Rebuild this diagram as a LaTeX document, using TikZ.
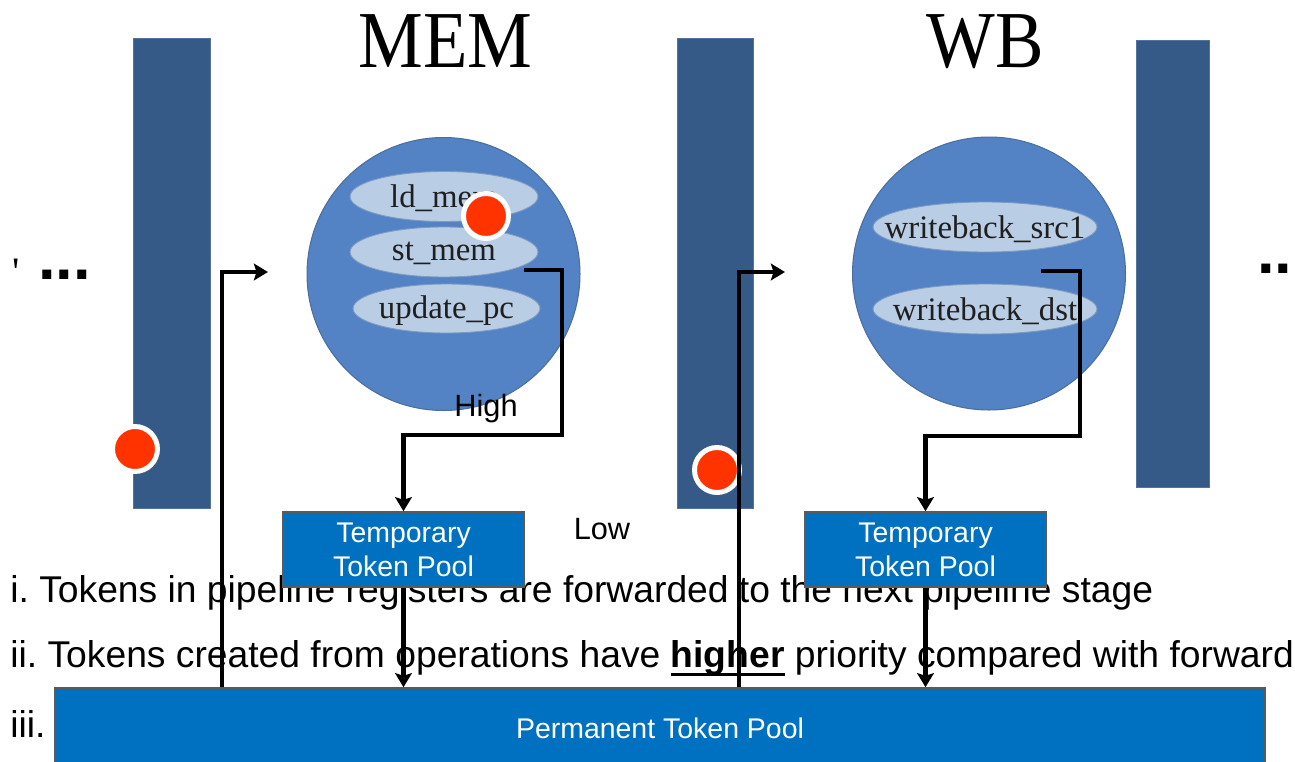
\documentclass[tikz,border=0pt]{standalone}
\usepackage{fontspec}
\setmainfont{Liberation Serif}
\setsansfont{Liberation Sans}
\newfontfamily\titlefont[FakeStretch=0.9]{Liberation Serif}
\usetikzlibrary{arrows.meta,shapes.geometric}

% thick underline for emphasised words
\newsavebox{\ulbox}
\newcommand{\thickul}[1]{\sbox{\ulbox}{#1}\rlap{\rule[-4.9pt]{\wd\ulbox}{1.7pt}}\usebox{\ulbox}}

\definecolor{regblue}{HTML}{355A88}
\definecolor{stageblue}{HTML}{5383C4}
\definecolor{stageedge}{HTML}{4A6E9E}
\definecolor{opfill}{HTML}{B9CDE5}
\definecolor{opedge}{HTML}{7E9BC2}
\definecolor{poolblue}{HTML}{0070C0}
\definecolor{pooledge}{HTML}{5A5A5A}
\definecolor{tokenred}{HTML}{FF3300}

\tikzset{
  reg/.style={rectangle, fill=regblue, draw=regblue!85!white, line width=0.4pt, inner sep=0},
  stage/.style={circle, fill=stageblue, draw=stageedge, line width=0.6pt, minimum size=5.46cm, inner sep=0},
  op/.style={ellipse, fill=opfill, draw=opedge, line width=0.5pt, minimum height=1.0cm, inner sep=0,
    label={[optext]center:#1}},
  optext/.style={font=\fontsize{18.7}{20}\selectfont, text=black!88, inner sep=0, yshift=-1pt},
  pool/.style={rectangle, fill=poolblue, draw=pooledge, line width=0.9pt, text=white,
    font=\sffamily\fontsize{16.2}{19.4}\selectfont, align=center, inner sep=0},
  token/.style={circle, fill=tokenred, draw=white, line width=2.83pt, minimum size=0.9cm, inner sep=0},
  flow/.style={line width=2.3pt, -{Stealth[length=8pt,width=9.5pt,inset=1.5pt]}},
  note/.style={font=\sffamily\fontsize{21.2}{25}\selectfont\frenchspacing, anchor=base west, inner sep=0},
  prio/.style={font=\sffamily\fontsize{17.5}{20}\selectfont, inner sep=0},
  title/.style={font=\titlefont\fontsize{46}{50}\selectfont, anchor=base, inner sep=0},
  more/.style={font=\sffamily\bfseries\fontsize{36}{40}\selectfont, inner sep=0, anchor=base west},
}

\begin{document}
\begin{tikzpicture}[x=0.02cm,y=-0.02cm]
\clip (0,0) rectangle (1295,761);
\fill[white] (0,0) rectangle (1295,761);

% pipeline registers
\node[reg, minimum width=1.54cm, minimum height=9.4cm] (reg1) at (171.5,273) {};
\node[reg, minimum width=1.52cm, minimum height=9.4cm] (reg2) at (715,273) {};
\node[reg, minimum width=1.46cm, minimum height=8.94cm] (reg3) at (1172.5,263.5) {};

% stage titles
\node[title] (memtitle) at (445.5,67) {MEM};
\node[title] (wbtitle) at (985,67) {WB};

% elided stages on both sides
\node[font=\fontsize{23}{25}\selectfont, anchor=base, inner sep=0] (tick) at (16,285) {\textquotesingle};
\node[more] (moreL) at (38,279) {...};
\node[more] (moreR) at (1257,273) {...};

% MEM stage and its operations
\node[stage] (mem) at (443.5,274) {};
\node[op=ld\_mem, minimum width=3.76cm] (ld) at (444,196.5) {};
\node[op=st\_mem, minimum width=3.76cm] (st) at (444,252) {};
\node[op=update\_pc, minimum width=3.74cm, minimum height=0.98cm] (upd) at (446.5,308.5) {};

% WB stage and its operations
\node[stage] (wb) at (989,273.5) {};
\node[op=writeback\_src1, minimum width=4.48cm] (wbs) at (985,227) {};
\node[op=writeback\_dst, minimum width=4.48cm] (wbd) at (985,309) {};

% rules listed under the pipeline
\node[note] (r1) at (10,602) {i. Tokens in pipeline registers are forwarded to the next pipeline stage};
\node[note] (r2) at (10,667) {ii. Tokens created from operations have \thickul{\textbf{higher}} priority compared with forwarded};
\node[note] (r3) at (10,737) {iii.};

% token pools
\node[pool, minimum width=4.82cm, minimum height=1.5cm] (tp1) at (403.5,549.5) {Temporary\\Token Pool};
\node[pool, minimum width=4.82cm, minimum height=1.5cm] (tp2) at (925.5,549.5) {Temporary\\Token Pool};
\node[pool, minimum width=24.2cm, minimum height=1.6cm] (perm) at (660,728) {Permanent Token Pool};

% priority labels
\node[prio] (high) at (486,409) {High};
\node[prio] (low) at (602,529) {Low};

% tokens
\node[token] (tk1) at (486,216) {};
\node[token] (tk2) at (135,449) {};
\node[token] (tk3) at (717,470) {};

% forwarding from the permanent pool into each stage
\coordinate (up1) at (222,272);
\coordinate (in1) at (268,272);
\draw[flow] (perm.north -| up1) -- (up1) -- (in1);
\coordinate (up2) at (739,272);
\coordinate (in2) at (785,272);
\draw[flow] (perm.north -| up2) -- (up2) -- (in2);

% tokens created by operations go to the temporary pools
\coordinate (out1) at (524,270);
\coordinate (bend1) at (562,435);
\draw[flow] (out1) -| (bend1) -| (tp1.north);
\coordinate (out2) at (1041,271);
\coordinate (bend2) at (1080,436);
\draw[flow] (out2) -| (bend2) -| (tp2.north);

% temporary pools drain into the permanent pool
\draw[flow] (tp1.south) -- (tp1.south |- perm.north);
\draw[flow] (tp2.south) -- (tp2.south |- perm.north);
\end{tikzpicture}
\end{document}
